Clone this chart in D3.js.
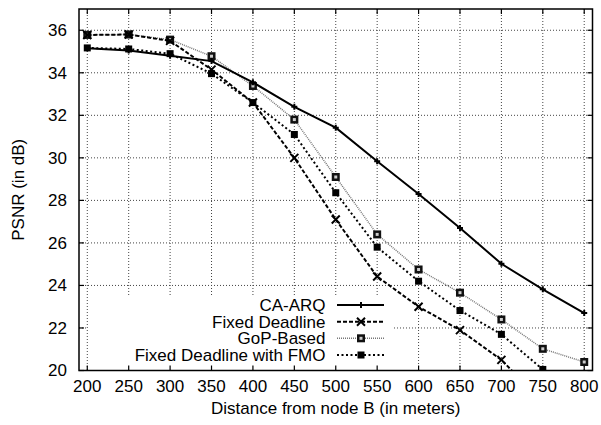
<!DOCTYPE html>
<html>
<head>
<meta charset="utf-8">
<script src="https://cdn.jsdelivr.net/npm/d3@7"></script>
<style>
html,body{margin:0;padding:0;background:#fff;}
svg{display:block;}
text{font-family:"Liberation Sans",Arial,Helvetica,sans-serif;fill:#000;}
</style>
</head>
<body>
<svg id="chart" width="601" height="425"></svg>
<script>
const distances = [200, 250, 300, 350, 400, 450, 500, 550, 600, 650, 700, 750, 800];
const caArq = [35.15, 35.05, 34.8, 34.55, 33.55, 32.4, 31.42, 29.84, 28.3, 26.7, 25.02, 23.82, 22.7];
const fixedDeadline = [35.78, 35.8, 35.5, 34.15, 32.6, 30.0, 27.1, 24.42, 23.0, 21.9, 20.5, 18.5];
const gopBased = [35.78, 35.8, 35.56, 34.78, 33.38, 31.8, 29.1, 26.4, 24.75, 23.66, 22.4, 21.02, 20.4];
const fmo = [35.17, 35.12, 34.9, 33.96, 32.6, 31.1, 28.36, 25.8, 24.2, 22.82, 21.7, 20.05];
const xTicks = [200, 250, 300, 350, 400, 450, 500, 550, 600, 650, 700, 750, 800];
const yTicks = [20, 22, 24, 26, 28, 30, 32, 34, 36];
const seriesNames = ["CA-ARQ", "Fixed Deadline", "GoP-Based", "Fixed Deadline with FMO"];

const svg = d3.select("#chart");
const L = 79, R = 592.5, T = 9, B = 370.5;
const x = d3.scaleLinear().domain([190, 810]).range([L, R]);
const y = d3.scaleLinear().domain([20, 37]).range([B, T]);
const FS = "17px";

svg.append("defs").append("clipPath").attr("id", "clip")
  .append("rect").attr("x", L).attr("y", T).attr("width", R - L).attr("height", B - T);

// grid
const grid = svg.append("g");
grid.selectAll("line.vx").data(xTicks).join("line")
  .attr("x1", d => x(d)).attr("x2", d => x(d)).attr("y1", T).attr("y2", B)
  .attr("stroke", "#444").attr("stroke-width", 1).attr("stroke-dasharray", "1,2");
grid.selectAll("line.hy").data(yTicks.filter(d => d > 20 && d < 37)).join("line")
  .attr("class", "hy")
  .attr("x1", L).attr("x2", R).attr("y1", d => y(d)).attr("y2", d => y(d))
  .attr("stroke", "#444").attr("stroke-width", 1).attr("stroke-dasharray", "1,2");

// opaque key box
svg.append("rect").attr("x", 88).attr("y", 295).attr("width", 393 - 88).attr("height", B - 295)
  .attr("fill", "#fff");

// ticks (inward, mirrored)
const ticks = svg.append("g").attr("stroke", "#000").attr("stroke-width", 1.2);
xTicks.forEach(d => {
  ticks.append("line").attr("x1", x(d)).attr("x2", x(d)).attr("y1", B).attr("y2", B - 5);
  ticks.append("line").attr("x1", x(d)).attr("x2", x(d)).attr("y1", T).attr("y2", T + 5);
});
yTicks.forEach(d => {
  ticks.append("line").attr("x1", L).attr("x2", L + 5).attr("y1", y(d)).attr("y2", y(d));
  ticks.append("line").attr("x1", R).attr("x2", R - 5).attr("y1", y(d)).attr("y2", y(d));
});

// tick labels
svg.append("g").selectAll("text").data(xTicks).join("text")
  .attr("x", d => x(d)).attr("y", 392).attr("text-anchor", "middle")
  .style("font-size", FS).text(d => d);
svg.append("g").selectAll("text").data(yTicks).join("text")
  .attr("x", 67).attr("y", d => y(d)).attr("dy", "0.35em").attr("text-anchor", "end")
  .style("font-size", FS).text(d => d);

// axis titles
svg.append("text").attr("x", (L + R) / 2).attr("y", 414).attr("text-anchor", "middle")
  .style("font-size", FS).text("Distance from node B (in meters)");
svg.append("text").attr("transform", `translate(24,${(T + B) / 2}) rotate(-90)`)
  .attr("text-anchor", "middle").style("font-size", FS).text("PSNR (in dB)");

const styles = [
  {vals: caArq, stroke: "#000", width: 2, dash: null, marker: "plus"},
  {vals: fixedDeadline, stroke: "#000", width: 2, dash: "4,2", marker: "cross"},
  {vals: gopBased, stroke: "#777", width: 1.5, dash: "1,1", marker: "opensq"},
  {vals: fmo, stroke: "#000", width: 2, dash: "2,2.5", marker: "fillsq"}
];

function drawMarker(g, type, cx, cy) {
  if (type === "plus") {
    g.append("path").attr("d", `M${cx-3},${cy}H${cx+3}M${cx},${cy-3}V${cy+3}`)
      .attr("stroke", "#000").attr("stroke-width", 2).attr("fill", "none");
  } else if (type === "cross") {
    g.append("path").attr("d", `M${cx-4},${cy-4}L${cx+4},${cy+4}M${cx-4},${cy+4}L${cx+4},${cy-4}`)
      .attr("stroke", "#000").attr("stroke-width", 2).attr("fill", "none");
  } else if (type === "opensq") {
    g.append("rect").attr("x", cx - 4).attr("y", cy - 4).attr("width", 8).attr("height", 8).attr("fill", "#111");
    g.append("rect").attr("x", cx - 1.5).attr("y", cy - 1.5).attr("width", 3).attr("height", 3).attr("fill", "#ccc");
  } else {
    g.append("rect").attr("x", cx - 3.5).attr("y", cy - 3.5).attr("width", 7).attr("height", 7).attr("fill", "#000");
  }
}

const plot = svg.append("g").attr("clip-path", "url(#clip)");
const line = d3.line().x((d, i) => x(distances[i])).y(d => y(d));
[2, 3, 1, 0].forEach(k => {
  const s = styles[k];
  plot.append("path").attr("d", line(s.vals)).attr("fill", "none")
    .attr("stroke", s.stroke).attr("stroke-width", s.width)
    .attr("stroke-dasharray", s.dash);
  s.vals.forEach((v, i) => {
    if (v >= 20 && v <= 37) drawMarker(plot, s.marker, x(distances[i]), y(v));
  });
});

// legend
const legY = [305, 321.7, 338.3, 355];
const leg = svg.append("g");
seriesNames.forEach((name, k) => {
  const s = styles[k];
  leg.append("text").attr("x", 325.5).attr("y", legY[k]).attr("dy", "0.35em")
    .attr("text-anchor", "end").style("font-size", FS).text(name);
  leg.append("line").attr("x1", 337).attr("x2", 384).attr("y1", legY[k]).attr("y2", legY[k])
    .attr("stroke", s.stroke).attr("stroke-width", s.width).attr("stroke-dasharray", s.dash);
  drawMarker(leg, s.marker, 361, legY[k]);
});

// frame
svg.append("rect").attr("x", L).attr("y", T).attr("width", R - L).attr("height", B - T)
  .attr("fill", "none").attr("stroke", "#000").attr("stroke-width", 1.5);
</script>
</body>
</html>
